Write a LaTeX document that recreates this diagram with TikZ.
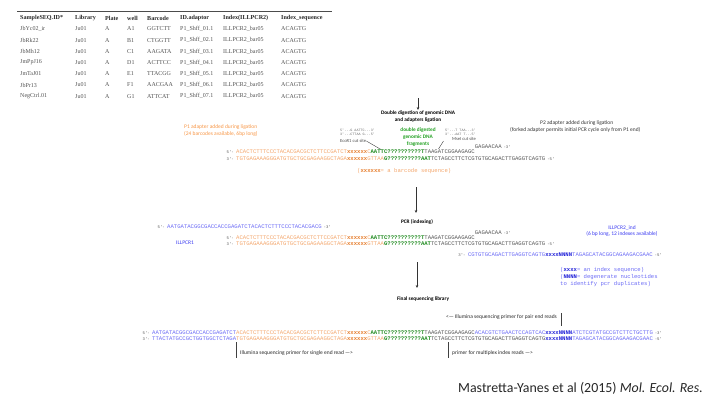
\documentclass[tikz,border=0pt]{standalone}
\usepackage{fontspec}
\setmainfont{Carlito}
\newfontfamily\seqfont{Liberation Mono}
\newfontfamily\tabfont{Liberation Serif}
\usetikzlibrary{arrows.meta}
\definecolor{labor}{HTML}{F79646}
\definecolor{seqor}{HTML}{F3A66C}
\definecolor{seqxo}{HTML}{E67E2E}
\definecolor{seqgr}{HTML}{1E8A1E}
\definecolor{labgr}{HTML}{22A022}
\definecolor{seqbl}{HTML}{6A6AF5}
\definecolor{labbl}{HTML}{3A3AF0}
\definecolor{seqxb}{HTML}{2020D8}
\definecolor{seqgray}{HTML}{555555}
\newcommand\sqO[1]{{\color{seqor}#1}}
\newcommand\sqXo[1]{{\color{seqxo}\bfseries #1}}
\newcommand\sqG[1]{{\color{seqgr}\bfseries #1}}
\newcommand\sqK[1]{{\color{seqgray}#1}}
\newcommand\sqB[1]{{\color{seqbl}#1}}
\newcommand\sqXb[1]{{\color{seqxb}\bfseries #1}}
\begin{document}
\begin{tikzpicture}[x=1pt,y=-1pt]
\tikzset{
 seq/.style={inner sep=0pt, anchor=west, font=\seqfont\fontsize{5.6}{6}\selectfont},
 endlab/.style={inner sep=0pt, font=\seqfont\fontsize{4}{4}\selectfont, text=seqgray},
 lab/.style={inner sep=0pt, font=\fontsize{5.5}{6.8}\selectfont},
 head/.style={inner sep=0pt, font=\bfseries\fontsize{5.3}{7}\selectfont, align=center},
 tabh/.style={inner sep=0pt, anchor=west, font=\tabfont\bfseries\fontsize{6.1}{7}\selectfont, text=black!85},
 tabc/.style={inner sep=0pt, anchor=west, font=\tabfont\fontsize{6}{7}\selectfont, text=black!68},
 tiny seq/.style={inner sep=0pt, anchor=west, font=\seqfont\fontsize{3.4}{4}\selectfont, text=black!60, align=left},
 cutlab/.style={inner sep=0pt, anchor=west, font=\fontsize{4.6}{5}\selectfont, text=black!70},
 flow/.style={-{Stealth[length=3pt,width=2.6pt]}, line width=0.6pt, draw=black!80},
 bar/.style={line width=0.5pt, draw=black!75},
 cut/.style={line width=0.4pt, draw=black!75},
}
\useasboundingbox (0,0) rectangle (720,405);

% ---------------- table ----------------
\coordinate (tl) at (17,11);
\coordinate (tr) at (332,11);
\draw[line width=0.5pt, draw=black!70] (tl) -- (tr);
\node[tabh] (h1) at (20,18) {SampleSEQ.ID*};
\node[tabh] (h2) at (75,18) {Library};
\node[tabh] (h3) at (105,18) {Plate};
\node[tabh] (h4) at (127,18) {well};
\node[tabh] (h5) at (147,18) {Barcode};
\node[tabh] (h6) at (180,18) {ID.adaptor};
\node[tabh] (h7) at (223,18) {Index(ILLPCR2)};
\node[tabh] (h8) at (281,18) {Index\_sequence};
\foreach \sid/\well/\bc [count=\i] in {JbYc02\_ir/A1/GGTCTT, JbRk22/B1/CTGGTT, JbMh12/C1/AAGATA, JmPpJ16/D1/ACTTCC, JmTaJ01/E1/TTACGG, JbPr13/F1/AACGAA, NegCtrl.01/G1/ATTCAT}{
  \pgfmathsetmacro\ry{29+11.2*(\i-1)}
  \node[tabc] (r\i c1) at (20,\ry) {\sid};
  \node[tabc] (r\i c2) at (75,\ry) {Ju01};
  \node[tabc] (r\i c3) at (105,\ry) {A};
  \node[tabc] (r\i c4) at (127,\ry) {\well};
  \node[tabc] (r\i c5) at (147,\ry) {\bc};
  \node[tabc] (r\i c6) at (180,\ry) {P1\_Shff\_0\i.1};
  \node[tabc] (r\i c7) at (223,\ry) {ILLPCR2\_bar05};
  \node[tabc] (r\i c8) at (281,\ry) {ACAGTG};
}

% ---------------- stage 1 ----------------
\coordinate (a1s) at (418,98);
\coordinate (a1e) at (418,110);
\node[head] (hd1) at (418,116.5) {Double digestion of genomic DNA\\and adapters ligation};
\draw[flow] (a1s) -- (a1e);

\node[lab, text=labgr, font=\bfseries\fontsize{5.3}{7}\selectfont, align=center] (frag) at (418,137) {double digested\\genomic DNA\\fragments};

\node[lab, anchor=west, text=labor, align=left] (p1lab) at (184,130.5) {P1 adapter added during ligation\\(24 barcodes available, 6bp long)};
\node[lab, anchor=west, text=black!80] (p2lab) at (540,123) {P2 adapter added during ligation};
\node[lab, anchor=west, text=black!80] (p2sub) at (510,130) {(forked adapter permits initial PCR cycle only from P1 end)};

\node[tiny seq] (eco) at (340,132.5) {5'...G AATTC...3'\\3'...CTTAA G...5'};
\node[cutlab] (ecolab) at (340,141) {EcoR1 cut site};
\coordinate (ecoc) at (381,149.5);
\draw[cut] (ecolab.east) -- (ecoc);
\node[tiny seq] (mse) at (445,132.5) {5'...T TAA...3'\\3'...AAT T...5'};
\node[cutlab] (mselab) at (452,139) {MseI cut site};
\coordinate (msea) at (443.5,141);
\coordinate (mseb) at (438.5,149);
\draw[cut] (msea) -- (mseb);

\node[seq] (s1t) at (236,152) {\sqO{ACACTCTTTCCCTACACGACGCTCTTCCGATCT}\sqXo{xxxxxx}\sqO{C}\sqG{AATTC??????????T}\sqK{TAAGATCGGAAGAGC}};
\node[endlab, anchor=east] (s1t5) at ([xshift=-2pt]s1t.west) {5'-};
\node[seq] (s1f) at (474.6,147) {\sqK{GAGAACAA}};
\node[endlab, anchor=west] (s1f3) at ([xshift=1.5pt]s1f.east) {-3'};
\node[seq] (s1b) at (236,159) {\sqO{TGTGAGAAAGGGATGTGCTGCGAGAAGGCTAGA}\sqXo{xxxxxx}\sqO{GTTAA}\sqG{G??????????AAT}\sqK{TCTAGCCTTCTCGTGTGCAGACTTGAGGTCAGTG}};
\node[endlab, anchor=east] (s1b3) at ([xshift=-2pt]s1b.west) {3'-};
\node[endlab, anchor=west] (s1b5) at ([xshift=1.5pt]s1b.east) {-5'};
\node[seq] (bcnote) at (357,171) {\sqO{(}\sqXo{xxxxxx}\sqO{ = a barcode sequence)}};

% ---------------- stage 2 ----------------
\coordinate (a2s) at (416,187);
\coordinate (a2e) at (416,213);
\node[head] (hd2) at (417,222) {PCR (indexing)};
\draw[flow] (a2s) -- (a2e);

\node[seq] (pr1) at (167,227) {\sqB{AATGATACGGCGACCACCGAGATCTACACTCTTTCCCTACACGACG}};
\node[endlab, anchor=east] (pr15) at ([xshift=-2pt]pr1.west) {5'-};
\node[endlab, anchor=west] (pr13) at ([xshift=1.5pt]pr1.east) {-3'};
\node[lab, anchor=east, text=labbl] (il1) at (194,243) {ILLPCR1};

\node[seq] (s2t) at (236,238) {\sqO{ACACTCTTTCCCTACACGACGCTCTTCCGATCT}\sqXo{xxxxxx}\sqO{C}\sqG{AATTC??????????T}\sqK{TAAGATCGGAAGAGC}};
\node[endlab, anchor=east] (s2t5) at ([xshift=-2pt]s2t.west) {5'-};
\node[seq] (s2f) at (474.6,233) {\sqK{GAGAACAA}};
\node[endlab, anchor=west] (s2f3) at ([xshift=1.5pt]s2f.east) {-3'};
\node[seq] (s2b) at (236,244) {\sqO{TGTGAGAAAGGGATGTGCTGCGAGAAGGCTAGA}\sqXo{xxxxxx}\sqO{GTTAA}\sqG{G??????????AAT}\sqK{TCTAGCCTTCTCGTGTGCAGACTTGAGGTCAGTG}};
\node[endlab, anchor=east] (s2b3) at ([xshift=-2pt]s2b.west) {3'-};
\node[endlab, anchor=west] (s2b5) at ([xshift=1.5pt]s2b.east) {-5'};

\node[lab, text=labbl, align=center] (il2) at (622,231) {ILLPCR2\_ind\\(6 bp long, 12 indexes available)};
\node[seq] (pr2) at (467.8,255) {\sqB{CGTGTGCAGACTTGAGGTCAGTG}\sqXb{xxxxNNNN}\sqB{TAGAGCATACGGCAGAAGACGAAC}};
\node[endlab, anchor=east] (pr23) at ([xshift=-2pt]pr2.west) {3'-};
\node[endlab, anchor=west] (pr25) at ([xshift=1.5pt]pr2.east) {-5'};

\node[seq] (n1) at (560,270) {\sqB{(}\sqXb{xxxx}\sqB{ = an index sequence)}};
\node[seq] (n2) at (560,277.5) {\sqB{(}\sqXb{NNNN}\sqB{ = degenerate nucleotides}};
\node[seq] (n3) at (560,284) {\sqB{to identify pcr duplicates)}};

% ---------------- stage 3 ----------------
\coordinate (a3s) at (417,262);
\coordinate (a3e) at (417,288);
\node[head] (hd3) at (423,299) {Final sequencing library};
\draw[flow] (a3s) -- (a3e);

\node[seq] (s3t) at (152,333) {\sqB{AATGATACGGCGACCACCGAGATCT}\sqO{ACACTCTTTCCCTACACGACGCTCTTCCGATCT}\sqXo{xxxxxx}\sqO{C}\sqG{AATTC??????????T}\sqK{TAAGATCGGAAGAGC}\sqB{ACACGTCTGAACTCCAGTCAC}\sqXb{xxxxNNNN}\sqB{ATCTCGTATGCCGTCTTCTGCTTG}};
\node[endlab, anchor=east] (s3t5) at ([xshift=-2pt]s3t.west) {5'-};
\node[endlab, anchor=west] (s3t3) at ([xshift=1.5pt]s3t.east) {-3'};
\node[seq] (s3b) at (152,339) {\sqB{TTACTATGCCGCTGGTGGCTCTAGA}\sqO{TGTGAGAAAGGGATGTGCTGCGAGAAGGCTAGA}\sqXo{xxxxxx}\sqO{GTTAA}\sqG{G??????????AAT}\sqK{TCTAGCCTTCTCGTGTGCAGACTTGAGGTCAGTG}\sqXb{xxxxNNNN}\sqB{TAGAGCATACGGCAGAAGACGAAC}};
\node[endlab, anchor=east] (s3b3) at ([xshift=-2pt]s3b.west) {3'-};
\node[endlab, anchor=west] (s3b5) at ([xshift=1.5pt]s3b.east) {-5'};

\coordinate (pe1) at (561,313);
\coordinate (pe2) at (561,326);
\draw[bar] (pe1) -- (pe2);
\node[lab, anchor=east, text=black!85] (pelab) at (557,317) {<--- Illumina sequencing primer for pair end reads};

\coordinate (se1) at (236,342);
\coordinate (se2) at (236,358);
\draw[bar] (se1) -- (se2);
\node[lab, anchor=west, text=black!85] (selab) at (240,353) {Illumina sequencing primer for single end read --->};

\coordinate (mi1) at (448,342);
\coordinate (mi2) at (448,358);
\draw[bar] (mi1) -- (mi2);
\node[lab, anchor=west, text=black!85] (milab) at (452,353) {primer for multiplex index reads --->};

% ---------------- citation ----------------
\node[inner sep=0pt, anchor=west, font=\fontsize{13.9}{16}\selectfont, text=black!85] (cite) at (458,388) {Mastretta-Yanes et al (2015) \textit{Mol. Ecol. Res.}};
\end{tikzpicture}
\end{document}
